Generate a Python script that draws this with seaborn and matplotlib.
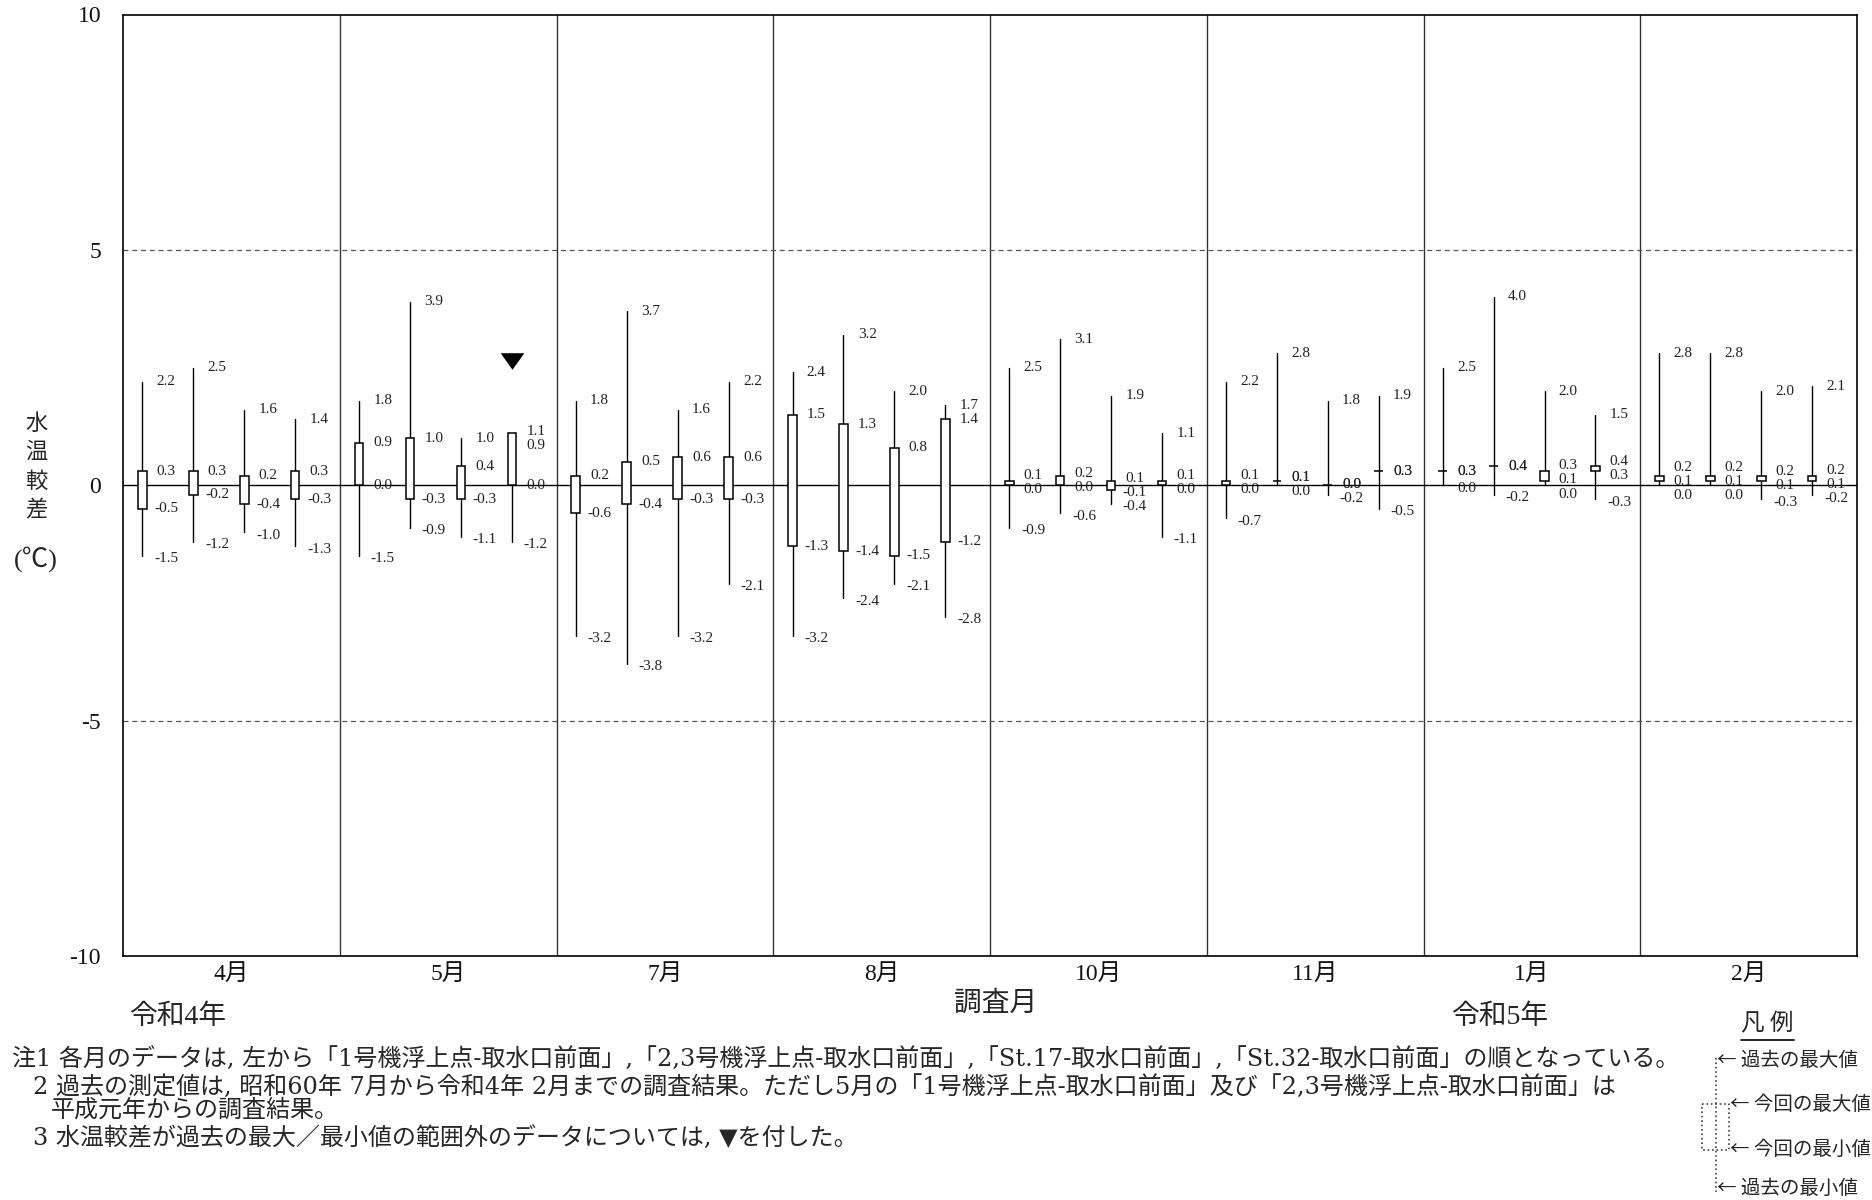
import numpy as np
import pandas as pd
import matplotlib
matplotlib.use("Agg")
import matplotlib.pyplot as plt
from matplotlib.path import Path
import seaborn as sns

# ---- data -------------------------------------------------------------
months = ["4月", "5月", "7月", "8月", "10月", "11月", "1月", "2月"]
stations = ["1号機浮上点-取水口前面", "2,3号機浮上点-取水口前面",
            "St.17-取水口前面", "St.32-取水口前面"]

# rows: survey month, columns: station (left to right)
past_max = [
    [2.2, 2.5, 1.6, 1.4],
    [1.8, 3.9, 1.0, 0.9],
    [1.8, 3.7, 1.6, 2.2],
    [2.4, 3.2, 2.0, 1.7],
    [2.5, 3.1, 1.9, 1.1],
    [2.2, 2.8, 1.8, 1.9],
    [2.5, 4.0, 2.0, 1.5],
    [2.8, 2.8, 2.0, 2.1],
]
cur_max = [
    [0.3, 0.3, 0.2, 0.3],
    [0.9, 1.0, 0.4, 1.1],
    [0.2, 0.5, 0.6, 0.6],
    [1.5, 1.3, 0.8, 1.4],
    [0.1, 0.2, 0.1, 0.1],
    [0.1, 0.1, 0.0, 0.3],
    [0.3, 0.4, 0.3, 0.4],
    [0.2, 0.2, 0.2, 0.2],
]
cur_min = [
    [-0.5, -0.2, -0.4, -0.3],
    [0.0, -0.3, -0.3, 0.0],
    [-0.6, -0.4, -0.3, -0.3],
    [-1.3, -1.4, -1.5, -1.2],
    [0.0, 0.0, -0.1, 0.0],
    [0.0, 0.1, 0.0, 0.3],
    [0.3, 0.4, 0.1, 0.3],
    [0.1, 0.1, 0.1, 0.1],
]
past_min = [
    [-1.5, -1.2, -1.0, -1.3],
    [-1.5, -0.9, -1.1, -1.2],
    [-3.2, -3.8, -3.2, -2.1],
    [-3.2, -2.4, -2.1, -2.8],
    [-0.9, -0.6, -0.4, -1.1],
    [-0.7, 0.0, -0.2, -0.5],
    [0.0, -0.2, 0.0, -0.3],
    [0.0, 0.0, -0.3, -0.2],
]
y_ticks = [-10, -5, 0, 5, 10]

# ---- style ------------------------------------------------------------
sns.set_theme(style="white")
plt.rcParams["font.family"] = ["Liberation Serif", "Noto Sans CJK JP"]
plt.rcParams["axes.unicode_minus"] = False
NOTE_FONT = ["DejaVu Serif", "Noto Sans CJK JP"]
CJK_FONT = ["Noto Sans CJK JP"]

W, H = 1872, 1200
fig = plt.figure(figsize=(W / 100, H / 100), dpi=100)
ax_l, ax_r, ax_t, ax_b = 123.3, 1857.0, 14.5, 956.0
ax = fig.add_axes([ax_l / W, 1 - ax_b / H, (ax_r - ax_l) / W, (ax_b - ax_t) / H])

# station slots inside each month cell
slot0, slot_step = 0.088, 0.235
box_w = 0.04
lab_dx = 0.11

recs = []
for i, m in enumerate(months):
    for j, st in enumerate(stations):
        recs.append(dict(month=m, station=st, uid=f"{i}-{j}",
                         x=i + slot0 + slot_step * j,
                         pmax=past_max[i][j], cmax=cur_max[i][j],
                         cmin=cur_min[i][j], pmin=past_min[i][j]))
df = pd.DataFrame(recs)

# past range: vertical whiskers
whisk = df.melt(id_vars=["uid", "x"], value_vars=["pmin", "pmax"],
                var_name="kind", value_name="y").sort_values(["uid", "kind"])
sns.lineplot(data=whisk, x="x", y="y", units="uid", estimator=None, sort=False,
             color="black", linewidth=1.0, ax=ax, legend=False, zorder=2)

# current range: white boxes
ax.bar(df["x"], df["cmax"] - df["cmin"], bottom=df["cmin"], width=box_w,
       facecolor="white", edgecolor="black", linewidth=1.1, zorder=3)


def spread(targets, sep=0.3):
    """Push label positions apart so neighbours keep at least `sep`."""
    clusters = [[k] for k in range(len(targets))]

    def positions(cl):
        c = np.mean([targets[k] for k in cl])
        n = len(cl)
        return [c + sep * ((n - 1) / 2 - q) for q in range(n)]

    changed = True
    while changed:
        changed = False
        for a in range(len(clusters) - 1):
            pa, pb = positions(clusters[a]), positions(clusters[a + 1])
            if pa[-1] - pb[0] < sep - 1e-9:
                clusters[a] = clusters[a] + clusters[a + 1]
                del clusters[a + 1]
                changed = True
                break
    out = [0.0] * len(targets)
    for cl in clusters:
        for k, p in zip(cl, positions(cl)):
            out[k] = p
    return out


for _, r in df.iterrows():
    labs = [(r.pmax, r.pmax, 1)]
    if r.cmax == r.cmin:
        labs.append((r.cmax, r.cmax, 2))
    else:
        labs += [(r.cmax, r.cmax, 1), (r.cmin, r.cmin, 1)]
    labs.append((r.pmin - 0.06, r.pmin, 1))
    labs.sort(key=lambda t: -t[0])
    ys = spread([t[0] for t in labs])
    for (tgt, val, cnt), yy in zip(labs, ys):
        for _ in range(cnt):
            ax.text(r.x + lab_dx, yy, f"{val:.1f}", ha="center", va="center",
                    fontsize=11, color="#222222", zorder=4)

# ▼ where the current value leaves the past range
out_rng = df[(df["cmax"] > df["pmax"]) | (df["cmin"] < df["pmin"])].copy()
out_rng["my"] = np.maximum(out_rng["pmax"], out_rng["cmax"]) + 1.55
tri = Path([(-1, 0.7), (1, 0.7), (0, -0.7), (-1, 0.7)])
ax.scatter(out_rng["x"], out_rng["my"], marker=tri, s=17 ** 2,
           color="black", linewidths=0, zorder=5)

# grid and frame
for k in range(1, len(months)):
    ax.axvline(k, color="#333333", lw=1.0, zorder=1)
ax.axhline(0, color="black", lw=1.0, zorder=1)
for v in (5, -5):
    ax.axhline(v, color="#555555", lw=0.9, ls=(0, (4, 3)), zorder=1)

ax.set_xlim(0, len(months))
ax.set_ylim(-10, 10)
ax.set_yticks(y_ticks)
ax.set_yticklabels([str(v) for v in y_ticks])
ax.set_xticks(np.arange(len(months)) + 0.5)
ax.set_xticklabels(months)
ax.tick_params(axis="y", length=0, pad=16, labelsize=17, colors="#111111")
ax.tick_params(axis="x", length=0, pad=6, labelsize=17, colors="#111111")
ax.set_xlabel("")
ax.set_ylabel("")
for sp in ax.spines.values():
    sp.set_color("black")
    sp.set_linewidth(1.2)

# ---- annotation layer in pixel coordinates ----------------------------
ov = fig.add_axes([0, 0, 1, 1], zorder=10)
ov.set_xlim(0, W)
ov.set_ylim(H, 0)
ov.axis("off")

# vertical axis title
for ch, yy in zip("水温較差", [423, 451, 481, 510]):
    ov.text(36, yy, ch, ha="center", va="center", fontsize=16, family=CJK_FONT)
ov.text(36, 559, "(℃)", ha="center", va="center", fontsize=19)

ov.text(996, 1003, "調査月", ha="center", va="center", fontsize=20, family=CJK_FONT)
ov.text(129, 1017, "令和4年", ha="left", va="center", fontsize=20)
ov.text(1500, 1017, "令和5年", ha="center", va="center", fontsize=20)

notes = [
    (12, 1059, "注1 各月のデータは, 左から「1号機浮上点-取水口前面」,「2,3号機浮上点-取水口前面」,「St.17-取水口前面」,「St.32-取水口前面」の順となっている。"),
    (33, 1087, "2 過去の測定値は, 昭和60年 7月から令和4年 2月までの調査結果。ただし5月の「1号機浮上点-取水口前面」及び「2,3号機浮上点-取水口前面」は"),
    (51, 1110, "平成元年からの調査結果。"),
    (33, 1138, "3 水温較差が過去の最大／最小値の範囲外のデータについては, ▼を付した。"),
]
for x0, y0, s in notes:
    ov.text(x0, y0, s, ha="left", va="center", fontsize=17.3, family=NOTE_FONT)

# legend sketch
ov.text(1767, 1024, "凡 例", ha="center", va="center", fontsize=17, family=CJK_FONT)
ov.plot([1741, 1794], [1040, 1040], color="black", lw=1.2)
ov.plot([1716, 1716], [1058, 1192], color="#444444", lw=1.2, ls=":")
ov.plot([1702, 1729, 1729, 1702, 1702], [1104, 1104, 1150, 1150, 1104],
        color="#444444", lw=1.2, ls=":")
ov.text(1717, 1060, "← 過去の最大値", ha="left", va="center", fontsize=14, family=CJK_FONT)
ov.text(1730, 1104, "← 今回の最大値", ha="left", va="center", fontsize=14, family=CJK_FONT)
ov.text(1730, 1149, "← 今回の最小値", ha="left", va="center", fontsize=14, family=CJK_FONT)
ov.text(1717, 1188, "← 過去の最小値", ha="left", va="center", fontsize=14, family=CJK_FONT)

fig.savefig("out.png", dpi=100)
